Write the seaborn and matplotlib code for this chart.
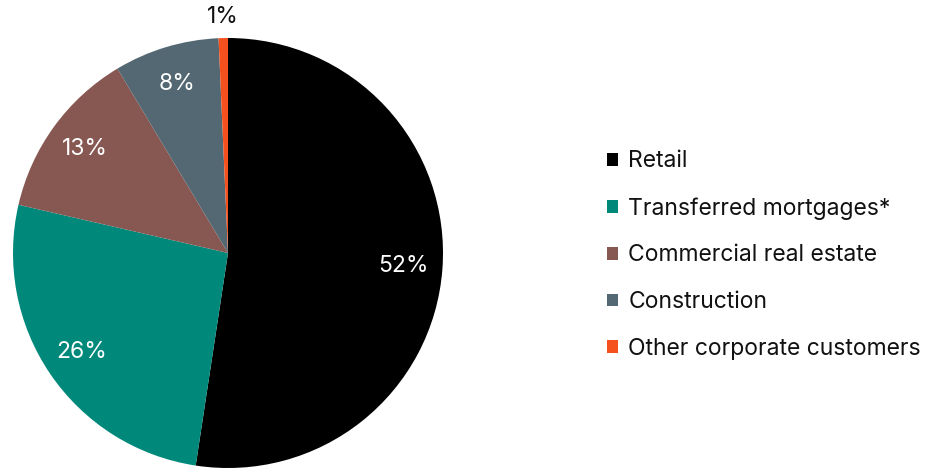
import numpy as np
import matplotlib
matplotlib.use("Agg")
import matplotlib.pyplot as plt
from matplotlib.patches import Patch
import seaborn as sns

# Portfolio breakdown by customer segment (percent)
segments = ["Retail", "Transferred mortgages*", "Commercial real estate",
            "Construction", "Other corporate customers"]
shares = [52.4, 26.2, 12.8, 7.9, 0.7]
colors = ["#000000", "#00897B", "#875752", "#536872", "#F4511E"]

sns.set_theme(style="white")
plt.rcParams["font.family"] = ["Inter", "DejaVu Sans"]
palette = sns.color_palette(colors)

fig = plt.figure(figsize=(9.44, 4.70), dpi=100)
ax = fig.add_axes([13 / 944, 2 / 470, 430 / 944, 430 / 470])

wedges, _ = ax.pie(shares, colors=palette, startangle=90, counterclock=False,
                   radius=1.0, wedgeprops=dict(linewidth=0, antialiased=True))
ax.set_xlim(-1, 1)
ax.set_ylim(-1, 1)
ax.set_aspect("equal")
ax.axis("off")

FS = 16.5

# Percentage labels placed along each wedge's mid angle
for w, val in zip(wedges, shares):
    mid = np.deg2rad((w.theta1 + w.theta2) / 2)
    inside = val >= 5
    dist = 0.82 if inside else 1.10
    ax.text(dist * np.cos(mid), dist * np.sin(mid), f"{val:.0f}%",
            ha="center", va="center", fontsize=FS,
            color="white" if inside else "#111111")

handles = [Patch(facecolor=c, edgecolor="none") for c in palette]
fig.legend(handles, segments, loc="center left", bbox_to_anchor=(0.643, 0.457),
           frameon=False, fontsize=FS, handlelength=0.48, handleheight=0.48,
           handletextpad=0.45, labelspacing=1.08, borderaxespad=0, borderpad=0,
           labelcolor="#111111")

fig.savefig("out.png", dpi=100)
